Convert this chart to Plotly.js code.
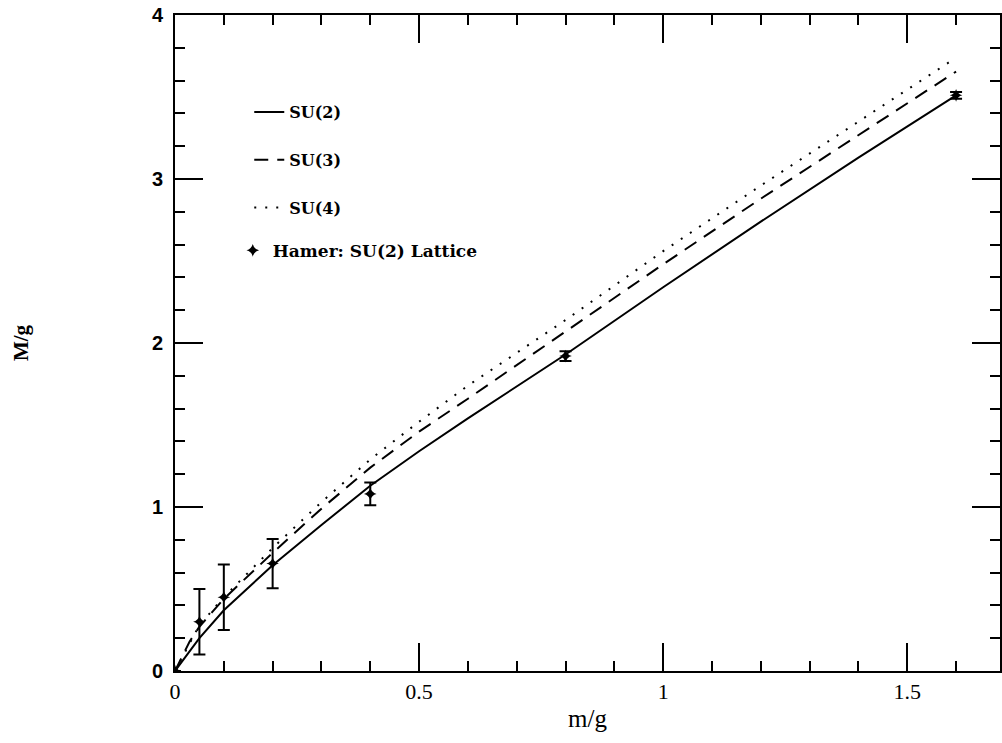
<!DOCTYPE html>
<html>
<head>
<meta charset="utf-8">
<script src="https://cdn.plot.ly/plotly-3.0.1.min.js"></script>
<style>html,body{margin:0;padding:0;background:#fff;}#chart{width:1002px;height:743px;}</style>
</head>
<body>
<div id="chart"></div>
<script>
// SU(2) continuum curve
const su2X = [0, 0.05, 0.1, 0.2, 0.3, 0.4, 0.5, 0.6, 0.8, 1.0, 1.2, 1.4, 1.6];
const su2Y = [0, 0.2, 0.37, 0.645, 0.89, 1.13, 1.34, 1.54, 1.93, 2.34, 2.74, 3.13, 3.51];
// SU(3) curve
const su3X = [0, 0.03, 0.05, 0.1, 0.2, 0.3, 0.4, 0.5, 0.6, 0.8, 1.0, 1.2, 1.4, 1.6];
const su3Y = [0, 0.18, 0.27, 0.44, 0.72, 0.99, 1.24, 1.46, 1.66, 2.07, 2.48, 2.88, 3.27, 3.655];
// SU(4) curve
const su4X = [0, 0.05, 0.1, 0.2, 0.3, 0.4, 0.5, 0.6, 0.8, 1.0, 1.2, 1.4, 1.6];
const su4Y = [0, 0.28, 0.45, 0.75, 1.03, 1.29, 1.52, 1.74, 2.14, 2.56, 2.96, 3.35, 3.74];
// Hamer SU(2) lattice points
const latX = [0, 0.05, 0.1, 0.2, 0.4, 0.8, 1.6];
const latY = [0, 0.30, 0.45, 0.655, 1.08, 1.92, 3.51];
const latErr = [0, 0.2, 0.2, 0.15, 0.07, 0.03, 0.02];

const xTickVals = [0, 0.5, 1, 1.5];
const xTickText = ['0', '0.5', '1', '1.5'];
const yTickVals = [0, 1, 2, 3, 4];
const yTickText = ['<b>0</b>', '<b>1</b>', '<b>2</b>', '<b>3</b>', '<b>4</b>'];

const legFont = {family: 'DejaVu Serif, serif', size: 16, color: '#000'};
const legFont2 = {family: 'DejaVu Serif, serif', size: 17, color: '#000'};

const traces = [
  {x: su2X, y: su2Y, type: 'scatter', mode: 'lines', name: '<b>SU(2)</b>',
   line: {color: '#000', width: 2}, legendgroup: 'a'},
  {x: su3X, y: su3Y, type: 'scatter', mode: 'lines', name: '<b>SU(3)</b>',
   line: {color: '#000', width: 2, dash: '14px,9px'}, legendgroup: 'b'},
  {x: su4X, y: su4Y, type: 'scatter', mode: 'lines', name: '<b>SU(4)</b>',
   line: {color: '#000', width: 2, dash: '2px,9px'}, legendgroup: 'c'},
  {x: latX, y: latY, type: 'scatter', mode: 'markers', name: '<b>Hamer: SU(2) Lattice</b>',
   marker: {symbol: 'star-diamond', size: 9, color: '#000'},
   error_y: {type: 'data', array: latErr, visible: true, color: '#000', thickness: 2, width: 6},
   legend: 'legend2'}
];

const minorX = {dtick: 0.1, ticklen: 10, tickwidth: 2, tickcolor: '#000', ticks: 'inside', showgrid: false};
const minorY = {dtick: 0.2, ticklen: 10, tickwidth: 2, tickcolor: '#000', ticks: 'inside', showgrid: false};

const layout = {
  width: 1002, height: 743,
  margin: {l: 175, r: 2, t: 15, b: 72},
  paper_bgcolor: '#fff', plot_bgcolor: '#fff',
  showlegend: true,
  legend: {x: 0.09, y: 0.878, xanchor: 'left', yanchor: 'top', bgcolor: 'rgba(0,0,0,0)',
           font: legFont, tracegroupgap: 24, traceorder: 'grouped'},
  legend2: {x: 0.07, y: 0.668, xanchor: 'left', yanchor: 'top', bgcolor: 'rgba(0,0,0,0)',
            font: legFont2},
  xaxis: {
    range: [0, 1.69], showline: true, linecolor: '#000', linewidth: 2, mirror: 'ticks',
    ticks: 'inside', ticklen: 28, tickwidth: 2, tickcolor: '#000',
    tickvals: xTickVals, ticktext: xTickText, showgrid: false, zeroline: false,
    tickfont: {family: 'Liberation Serif, serif', size: 22, color: '#000'},
    minor: minorX,
    title: {text: 'm/g', font: {family: 'Liberation Serif, serif', size: 25, color: '#000'}, standoff: 6}
  },
  yaxis: {
    range: [0, 4], showline: true, linecolor: '#000', linewidth: 2, mirror: 'ticks',
    ticks: 'inside', ticklen: 28, tickwidth: 2, tickcolor: '#000',
    tickvals: yTickVals, ticktext: yTickText, showgrid: false, zeroline: false,
    ticklabelstandoff: 6,
    tickfont: {family: 'Liberation Sans, Arial, sans-serif', size: 20, color: '#000'},
    minor: minorY,
    title: {text: '<b>M/g</b>', font: {family: 'Liberation Serif, serif', size: 21, color: '#000'}, standoff: 118}
  }
};

Plotly.newPlot('chart', traces, layout, {displayModeBar: false, staticPlot: true});
</script>
</body>
</html>
